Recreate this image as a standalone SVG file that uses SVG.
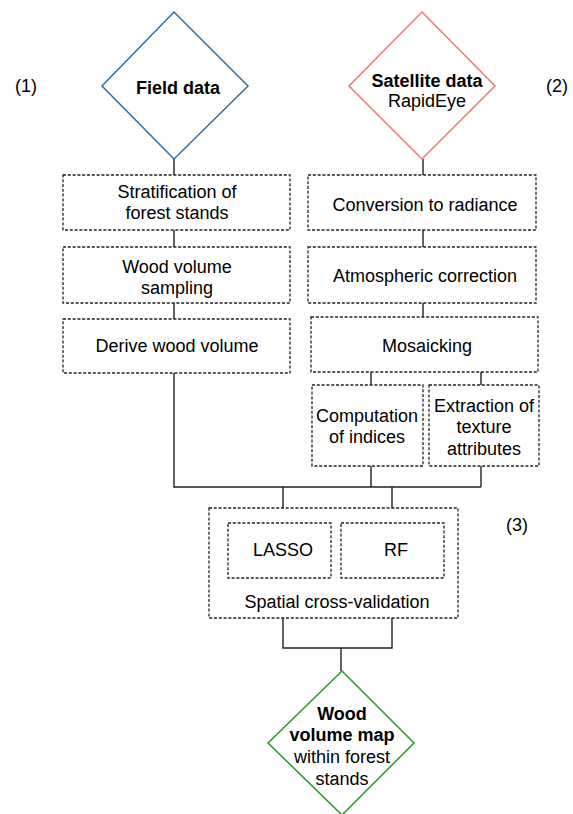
<svg xmlns="http://www.w3.org/2000/svg" width="573" height="814" viewBox="0 0 573 814">
<style>
text{font-family:"Liberation Sans",Arial,sans-serif;font-size:18px;fill:#000;text-anchor:middle}
.b{font-weight:bold}
.box{fill:none;stroke:#222;stroke-width:1.3;stroke-dasharray:3,1.8}
.dia{fill:#fff;stroke-width:1.5}
.con{fill:none;stroke:#222;stroke-width:1.4}
</style>
<rect width="573" height="814" fill="#fff"/>
<g id="connectors">
<path class="con" d="M174 159V175M174 230V247M174 303V319M174 373V487H481M423 159V175M423 230V247M423 303V317M371 372V385M481 372V385M371 466V487M481 466V487M283 487V508M392 487V508M283 618V648H392V618M341 648V671"/>
</g>
<g id="label1"><text x="26" y="92">(1)</text></g>
<g id="label2"><text x="557" y="92">(2)</text></g>
<g id="label3"><text x="517" y="531">(3)</text></g>
<g id="field-data">
<polygon class="dia" stroke="#2E6DA4" points="174,12 248,86 174,159 102,86"/>
<text class="b" x="178" y="94">Field data</text>
</g>
<g id="satellite-data">
<polygon class="dia" stroke="#EE7770" points="422,12 495,86 422,159 349,86"/>
<text class="b" x="427" y="87">Satellite data</text>
<text x="427" y="107">RapidEye</text>
</g>
<g id="stratification">
<rect class="box" x="63" y="175" width="227" height="55"/>
<text x="177" y="198">Stratification of</text>
<text x="177" y="219">forest stands</text>
</g>
<g id="sampling">
<rect class="box" x="63" y="247" width="227" height="56"/>
<text x="177" y="273">Wood volume</text>
<text x="177" y="294">sampling</text>
</g>
<g id="derive">
<rect class="box" x="63" y="319" width="227" height="54"/>
<text x="177" y="352">Derive wood volume</text>
</g>
<g id="radiance">
<rect class="box" x="308" y="175" width="228" height="55"/>
<text x="425" y="211">Conversion to radiance</text>
</g>
<g id="atmospheric">
<rect class="box" x="308" y="247" width="228" height="56"/>
<text x="425" y="282">Atmospheric correction</text>
</g>
<g id="mosaicking">
<rect class="box" x="311" y="317" width="227" height="55"/>
<text x="427" y="352">Mosaicking</text>
</g>
<g id="indices">
<rect class="box" x="312" y="385" width="111" height="81"/>
<text x="367" y="422">Computation</text>
<text x="367" y="443">of indices</text>
</g>
<g id="texture">
<rect class="box" x="429" y="385" width="110" height="81"/>
<text x="484" y="412">Extraction of</text>
<text x="484" y="433">texture</text>
<text x="484" y="455">attributes</text>
</g>
<g id="cross-validation">
<rect class="box" x="209" y="508" width="249" height="110"/>
<text x="337" y="608">Spatial cross-validation</text>
</g>
<g id="lasso">
<rect class="box" x="228" y="523" width="103" height="55"/>
<text x="283" y="556">LASSO</text>
</g>
<g id="rf">
<rect class="box" x="341" y="523" width="103" height="55"/>
<text x="396" y="556">RF</text>
</g>
<g id="wood-volume-map">
<polygon class="dia" stroke="#2A962A" points="342,671 414,743 342,815 268,743"/>
<text class="b" x="342" y="720">Wood</text>
<text class="b" x="342" y="741">volume map</text>
<text x="342" y="763">within forest</text>
<text x="342" y="785">stands</text>
</g>
</svg>
